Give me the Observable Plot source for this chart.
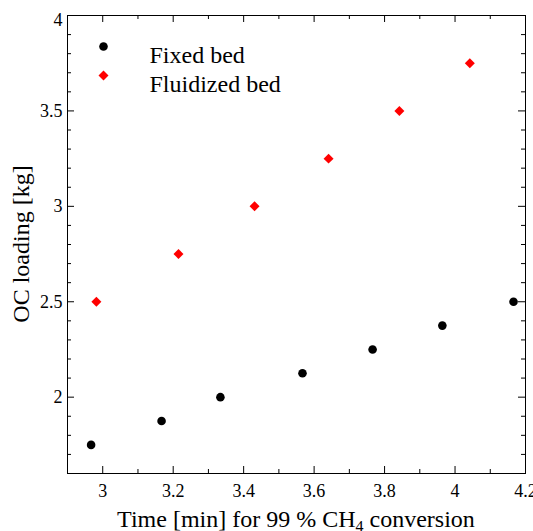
<!DOCTYPE html>
<html><head><meta charset="utf-8">
<script src="https://cdn.jsdelivr.net/npm/d3@7"></script>
<script src="https://cdn.jsdelivr.net/npm/@observablehq/plot@0.6"></script>
<style>html,body{margin:0;padding:0;background:#fff;overflow:hidden} svg{display:block}</style>
</head><body><div id="chart"></div>
<script>
// Data
const fixedTime = [2.967, 3.167, 3.334, 3.567, 3.766, 3.964, 4.166];
const fixedLoading = [1.75, 1.875, 2.0, 2.125, 2.25, 2.375, 2.5];
const fluidTime = [2.982, 3.215, 3.431, 3.641, 3.842, 4.042];
const fluidLoading = [2.5, 2.75, 3.0, 3.25, 3.5, 3.75];
const seriesNames = ["Fixed bed", "Fluidized bed"];
const xMajorTicks = [3, 3.2, 3.4, 3.6, 3.8, 4, 4.2];
const xMinorTicks = [2.9, 3.1, 3.3, 3.5, 3.7, 3.9, 4.1];
const yMajorTicks = [2, 2.5, 3, 3.5, 4];
const yMinorTicks = [1.6, 1.7, 1.8, 1.9, 2.1, 2.2, 2.3, 2.4, 2.6, 2.7, 2.8, 2.9, 3.1, 3.2, 3.3, 3.4, 3.6, 3.7, 3.8, 3.9];
const xLabelParts = ["Time [min] for 99 % CH", "4", " conversion"];
const yLabel = "OC loading [kg]";

const W = 533, H = 531;
const mL = 67, mT = 15, mR = 8, mB = 58;
const iW = W - mL - mR, iH = H - mT - mB;
const major = 7, minor = 4;
const font = "Liberation Serif, Times New Roman, serif";
const fmt = d => String(d);

const chart = Plot.plot({
  width: W, height: H,
  marginLeft: mL, marginTop: mT, marginRight: mR, marginBottom: mB,
  style: {fontFamily: font, background: "#fff", color: "#000"},
  x: {domain: [2.9, 4.2]},
  y: {domain: [1.6, 4]},
  marks: [
    Plot.frame({stroke: "#000", strokeWidth: 1}),
    // inward ticks on all four sides
    Plot.tickX(xMajorTicks, {x: d => d, insetTop: iH - major, stroke: "#000"}),
    Plot.tickX(xMajorTicks, {x: d => d, insetBottom: iH - major, stroke: "#000"}),
    Plot.tickX(xMinorTicks, {x: d => d, insetTop: iH - minor, stroke: "#000"}),
    Plot.tickX(xMinorTicks, {x: d => d, insetBottom: iH - minor, stroke: "#000"}),
    Plot.tickY(yMajorTicks, {y: d => d, insetRight: iW - major, stroke: "#000"}),
    Plot.tickY(yMajorTicks, {y: d => d, insetLeft: iW - major, stroke: "#000"}),
    Plot.tickY(yMinorTicks, {y: d => d, insetRight: iW - minor, stroke: "#000"}),
    Plot.tickY(yMinorTicks, {y: d => d, insetLeft: iW - minor, stroke: "#000"}),
    // tick labels
    Plot.axisX(xMajorTicks, {tickSize: 0, tickPadding: 11, fontSize: 18, tickFormat: fmt, label: null, fill: "#000"}),
    Plot.axisY(yMajorTicks.slice(0, 4), {tickSize: 0, tickPadding: 5, fontSize: 18, tickFormat: fmt, label: null, fill: "#000"}),
    Plot.axisY(yMajorTicks.slice(4), {tickSize: 0, tickPadding: 5, fontSize: 18, tickFormat: fmt, label: null, dy: 5, fill: "#000"}),
    // data
    Plot.dot(fixedTime, {x: fixedTime, y: fixedLoading, r: 4.3, fill: "#000", symbol: "circle"}),
    Plot.dot(fluidTime, {x: fluidTime, y: fluidLoading, r: 4.5, fill: "#ff0000", symbol: "diamond2"}),
    // legend
    Plot.dot([seriesNames[0]], {frameAnchor: "top-left", dx: 36, dy: 31, r: 4.3, fill: "#000", symbol: "circle"}),
    Plot.dot([seriesNames[1]], {frameAnchor: "top-left", dx: 36, dy: 60, r: 4.5, fill: "#ff0000", symbol: "diamond2"}),
    Plot.text([seriesNames[0]], {text: d => d, frameAnchor: "top-left", dx: 82, dy: 30, textAnchor: "start", fontSize: 24, fill: "#000"}),
    Plot.text([seriesNames[1]], {text: d => d, frameAnchor: "top-left", dx: 82, dy: 59, textAnchor: "start", fontSize: 24, fill: "#000"})
  ]
});

document.getElementById("chart").appendChild(chart);

// axis titles (x title needs a subscript)
const svg = d3.select(chart);
const xt = svg.append("text")
  .attr("x", mL + iW / 2).attr("y", H - 4)
  .attr("text-anchor", "middle")
  .attr("font-size", 24).attr("fill", "#000");
xt.append("tspan").text(xLabelParts[0]);
xt.append("tspan").attr("font-size", 16).attr("dy", 5).text(xLabelParts[1]);
xt.append("tspan").attr("dy", -5).text(xLabelParts[2]);

svg.append("text")
  .attr("transform", `translate(28.5,${mT + iH / 2}) rotate(-90)`)
  .attr("text-anchor", "middle")
  .attr("font-size", 24).attr("fill", "#000")
  .text(yLabel);

// force the serif face on every text (axis groups carry their own font settings)
svg.selectAll("g, text, tspan").style("font-family", font).style("font-variant", "normal");
</script>
</body></html>
